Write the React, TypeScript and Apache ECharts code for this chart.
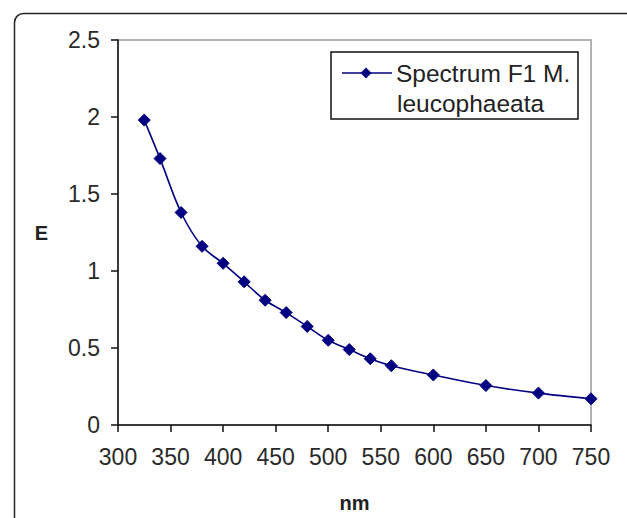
import React, { useEffect, useRef } from "react";
import * as echarts from "echarts";

const wavelengths = [325, 340, 360, 380, 400, 420, 440, 460, 480, 500, 520, 540, 560, 600, 650, 700, 750];
const extinction = [1.98, 1.73, 1.38, 1.16, 1.05, 0.93, 0.81, 0.73, 0.64, 0.55, 0.49, 0.43, 0.385, 0.325, 0.256, 0.207, 0.17];
const seriesName = "Spectrum F1 M. leucophaeata";
const legendLines = ["Spectrum F1 M.", "leucophaeata"];
const xTitle = "nm";
const yTitle = "E";

const FONT = "'Liberation Sans', Arial, sans-serif";
const NAVY = "#000080";

export default function App() {
  const ref = useRef<HTMLDivElement>(null);
  useEffect(() => {
    if (!ref.current) return;
    const chart = echarts.init(ref.current, null, { renderer: "svg" });
    chart.setOption({
      animation: false,
      backgroundColor: "#ffffff",
      grid: {
        left: 118,
        top: 40,
        right: 36,
        bottom: 88,
        show: true,
        borderColor: "#9a9a9a",
        borderWidth: 1.5,
        backgroundColor: "transparent",
      },
      xAxis: {
        type: "value",
        min: 300,
        max: 750,
        interval: 50,
        name: xTitle,
        nameLocation: "middle",
        nameGap: 68,
        nameTextStyle: { fontFamily: FONT, fontSize: 20, fontWeight: "bold", color: "#222" },
        axisLine: { show: true, onZero: false, lineStyle: { color: "#111", width: 1.5 } },
        axisTick: { show: true, inside: false, length: 7, lineStyle: { color: "#111", width: 1.5 } },
        axisLabel: { fontFamily: FONT, fontSize: 23, color: "#2a2a2a", margin: 20 },
        splitLine: { show: false },
      },
      yAxis: {
        type: "value",
        min: 0,
        max: 2.5,
        interval: 0.5,
        name: yTitle,
        nameLocation: "middle",
        nameRotate: 0,
        nameGap: 70,
        nameTextStyle: { fontFamily: FONT, fontSize: 20, fontWeight: "bold", color: "#222" },
        axisLine: { show: true, onZero: false, lineStyle: { color: "#111", width: 1.5 } },
        axisTick: { show: true, inside: false, length: 7, lineStyle: { color: "#111", width: 1.5 } },
        axisLabel: { fontFamily: FONT, fontSize: 23, color: "#2a2a2a", margin: 18 },
        splitLine: { show: false },
      },
      series: [
        {
          name: seriesName,
          type: "line",
          data: wavelengths.map((w, i) => [w, extinction[i]]),
          smooth: 0.35,
          symbol: "diamond",
          symbolSize: 12,
          showAllSymbol: true,
          lineStyle: { color: NAVY, width: 1.6 },
          itemStyle: { color: NAVY, borderColor: NAVY },
        },
      ],
      graphic: [
        {
          type: "rect",
          left: 12,
          top: 11,
          shape: { x: 0, y: 0, width: 700, height: 600, r: 9 },
          style: { fill: "none", stroke: "#222", lineWidth: 1.5 },
          silent: true,
          z: -1,
        },
        {
          type: "group",
          x: 331,
          y: 52,
          children: [
            {
              type: "rect",
              shape: { x: 0, y: 0, width: 247, height: 67 },
              style: { fill: "#fff", stroke: "#111", lineWidth: 1.5 },
            },
            {
              type: "line",
              shape: { x1: 11, y1: 21, x2: 61, y2: 21 },
              style: { stroke: NAVY, lineWidth: 1.6 },
            },
            {
              type: "polygon",
              shape: { points: [[35, 15.5], [40.5, 21], [35, 26.5], [29.5, 21]] },
              style: { fill: NAVY },
            },
            {
              type: "text",
              x: 65,
              y: 21,
              style: {
                text: legendLines[0],
                fontFamily: FONT,
                fontSize: 24.5,
                fill: "#222",
                textVerticalAlign: "middle",
              },
            },
            {
              type: "text",
              x: 66,
              y: 51,
              style: {
                text: legendLines[1],
                fontFamily: FONT,
                fontSize: 24.5,
                fill: "#222",
                textVerticalAlign: "middle",
              },
            },
          ],
        },
      ],
    });
    return () => chart.dispose();
  }, []);
  return <div ref={ref} style={{ width: 627, height: 518, position: "absolute", left: 0, top: 0 }} />;
}
